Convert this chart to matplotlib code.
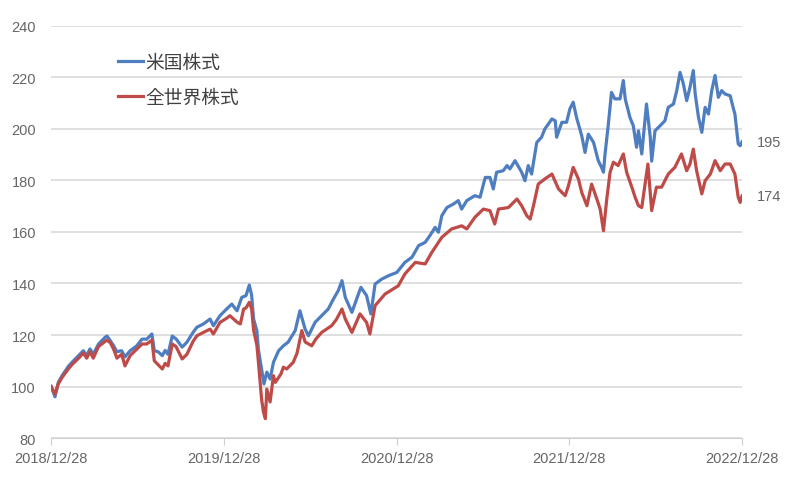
import pandas as pd
import matplotlib.pyplot as plt
import matplotlib.dates as mdates

# 基準日からの日数と指数 (2018/12/28 = 100)
start = pd.Timestamp("2018-12-28")

us_days = [0, 8, 15, 23, 37, 44, 58, 68, 75, 82, 89, 100, 114, 118, 125, 132, 139, 149, 156, 167,
           181, 192, 202, 213, 218, 226, 235, 241, 247, 256, 264, 277, 287, 300, 308, 322, 336, 343,
           357, 371, 382, 393, 403, 412, 419, 424, 428, 435, 438, 445, 450, 456, 463, 470, 481, 491,
           501, 516, 526, 537, 544, 558, 572, 586, 597, 607, 615, 622, 636, 646, 655, 667, 676, 685,
           699, 713, 731, 748, 763, 777, 791, 801, 812, 819, 826, 837, 851, 861, 868, 879, 896, 907,
           918, 928, 935, 942, 956, 964, 970, 981, 995, 1002, 1009, 1016, 1027, 1037, 1044, 1059,
           1066, 1069, 1080, 1090, 1097, 1104, 1111, 1122, 1129, 1136, 1147, 1157, 1164, 1168, 1171,
           1178, 1185, 1192, 1203, 1210, 1214, 1224, 1231, 1238, 1242, 1249, 1259, 1267, 1270, 1277,
           1288, 1298, 1305, 1316, 1323, 1330, 1337, 1344, 1351, 1358, 1362, 1369, 1376, 1383, 1390,
           1397, 1404, 1411, 1418, 1425, 1436, 1443, 1446, 1453, 1457, 1461]
us_vals = [100, 96, 101.6, 104.2, 108, 109.4, 112, 113.9, 112, 114.6, 112.5, 116.5, 119.1, 119.6,
           117.8, 115.8, 113.5, 113.9, 111.5, 113.9, 115.8, 118.4, 118.4, 120.4, 113.9, 113.5, 112,
           114, 112.5, 119.6, 118.5, 115.3, 117.2, 121, 123, 124.3, 126.2, 123.6, 127.5, 130.1, 132,
           129.4, 134.6, 135.3, 139.4, 135.3, 126.2, 121.7, 114.6, 106.8, 101, 105.6, 102.9, 109.4,
           113.9, 115.8, 117.2, 121.7, 129.4, 122.3, 119.7, 124.9, 127.5, 130.1, 134, 137.2, 141.1,
           134.6, 128.8, 134, 138.5, 135.3, 128.2, 139.8, 141.7, 143, 144.3, 148.2, 150.2, 154.7,
           156, 158.6, 161.8, 159.9, 166.3, 169.5, 170.9, 172.2, 168.9, 172.2, 174.1, 173.5, 181.2,
           181.2, 176.7, 183.2, 183.8, 185.8, 184.5, 187.7, 183.2, 179.9, 185.8, 182.5, 194.8, 196.8,
           200, 203.9, 203.2, 196.8, 202.6, 202.6, 207.8, 210.4, 204.5, 197.4, 190.9, 198, 194.8,
           187.7, 185.1, 183.2, 189.7, 201.3, 214.2, 211.7, 211.7, 218.8, 211.7, 204.5, 201.3, 192.9,
           199.3, 190.3, 209.7, 196.8, 187.5, 199.3, 201.3, 203.2, 208.4, 209.7, 214.9, 222, 217.5,
           211, 216.2, 222.7, 213.6, 204.5, 198.7, 208.4, 205.8, 214.9, 220.8, 212.3, 214.9, 213.6,
           212.9, 207.8, 205.8, 194.2, 193.5, 195]

world_days = [0, 8, 15, 23, 37, 44, 58, 68, 75, 82, 89, 100, 114, 118, 125, 132, 139, 149, 156, 167,
              181, 192, 202, 213, 218, 226, 235, 241, 247, 256, 264, 277, 287, 300, 308, 322, 336, 343,
              357, 371, 378, 393, 400, 407, 412, 419, 424, 428, 435, 438, 445, 449, 453, 456, 463, 470,
              474, 486, 491, 498, 512, 520, 530, 537, 551, 560, 572, 593, 603, 615, 622, 636, 653, 667,
              674, 685, 706, 734, 748, 770, 791, 805, 826, 847, 868, 879, 896, 914, 928, 938, 946, 967,
              985, 995, 1006, 1013, 1020, 1030, 1044, 1059, 1073, 1087, 1094, 1104, 1115, 1122, 1133,
              1143, 1154, 1161, 1168, 1175, 1182, 1189, 1199, 1210, 1217, 1228, 1235, 1242, 1249, 1262,
              1270, 1280, 1291, 1305, 1319, 1333, 1344, 1351, 1358, 1365, 1376, 1383, 1394, 1404, 1415,
              1425, 1436, 1446, 1453, 1457, 1461]
world_vals = [100, 97, 101, 103.5, 107, 108.5, 111, 113, 111, 113.5, 111, 115.5, 117.5, 118, 117,
              114.5, 111, 112.5, 108, 112, 114.5, 116.5, 116.5, 118, 110, 108.5, 106.8, 109, 108,
              116.5, 115.5, 110.7, 112.5, 117.5, 119.7, 121, 122.3, 120.4, 124.9, 126.5, 127.5, 125,
              124.3, 130.1, 130.5, 132.7, 130, 122, 116, 110, 95, 90, 87.5, 99, 94, 104.2, 101.6,
              104.9, 107.5, 106.8, 109.4, 113, 121.7, 117.3, 115.8, 118.5, 121, 123.6, 126, 130.1,
              126.2, 121, 128.2, 124.9, 120.4, 131.4, 135.9, 139.1, 143.7, 148.2, 147.6, 152.1, 157.9,
              161.2, 162.4, 161.2, 165.7, 168.9, 168.3, 163.1, 168.9, 169.5, 172.8, 170.2, 166.3, 165,
              170.2, 178.6, 180.6, 182.5, 176.7, 174.1, 178, 185.1, 180.6, 175.4, 170.2, 178.6, 172.8,
              168.9, 160.5, 172.8, 183.2, 187.1, 185.8, 190.3, 183.2, 177.4, 173.5, 170.2, 169.5,
              186.4, 168.3, 177.4, 177.4, 182.5, 185.1, 190.3, 183.8, 186.4, 192.2, 183.8, 174.8,
              179.9, 182.5, 187.7, 183.8, 186.4, 186.4, 182.5, 173.5, 171.5, 174]

us_dates = start + pd.to_timedelta(us_days, unit="D")
world_dates = start + pd.to_timedelta(world_days, unit="D")

tick_dates = pd.to_datetime(["2018-12-28", "2019-12-28", "2020-12-28", "2021-12-28", "2022-12-28"])
tick_labels = ["2018/12/28", "2019/12/28", "2020/12/28", "2021/12/28", "2022/12/28"]
y_ticks = [80, 100, 120, 140, 160, 180, 200, 220, 240]

plt.rcParams["font.family"] = ["Liberation Sans", "Noto Sans CJK JP"]

fig = plt.figure(figsize=(8, 4.81), dpi=100)
ax = fig.add_axes([0.064, 0.0873, 0.8635, 0.8566])

ax.plot(us_dates, us_vals, color="#4F7EC0", linewidth=2.3, label="米国株式")
ax.plot(world_dates, world_vals, color="#BE4B48", linewidth=2.3, label="全世界株式")

ax.set_xlim(tick_dates[0], tick_dates[-1])
ax.set_ylim(80, 240)
ax.set_yticks(y_ticks)
ax.set_xticks(tick_dates)
ax.set_xticklabels(tick_labels)

ax.grid(axis="y", color="#D9D9D9", linewidth=1.2)
ax.set_axisbelow(True)
for s in ["top", "right", "left"]:
    ax.spines[s].set_visible(False)
ax.spines["bottom"].set_color("#D0D0D0")
ax.tick_params(axis="y", length=0, labelsize=10.5, colors="#666666", pad=11)
ax.tick_params(axis="x", length=5, color="#D0D0D0", labelsize=10.5, labelcolor="#666666", pad=4)

# 末尾の値ラベル
ax.annotate(f"{us_vals[-1]:.0f}", xy=(us_dates[-1], us_vals[-1]), xytext=(11, 0),
            textcoords="offset points", va="center", fontsize=10.5, color="#666666")
ax.annotate(f"{world_vals[-1]:.0f}", xy=(world_dates[-1], world_vals[-1]), xytext=(11, 0),
            textcoords="offset points", va="center", fontsize=10.5, color="#666666")

leg = ax.legend(loc="upper left", bbox_to_anchor=(0.0716, 0.978), frameon=False,
                prop={"family": "Noto Sans CJK JP", "size": 13.5}, handlelength=1.35,
                handletextpad=0.15, labelspacing=0.72)
for t in leg.get_texts():
    t.set_color("#404040")

fig.savefig("out.png", dpi=100)
